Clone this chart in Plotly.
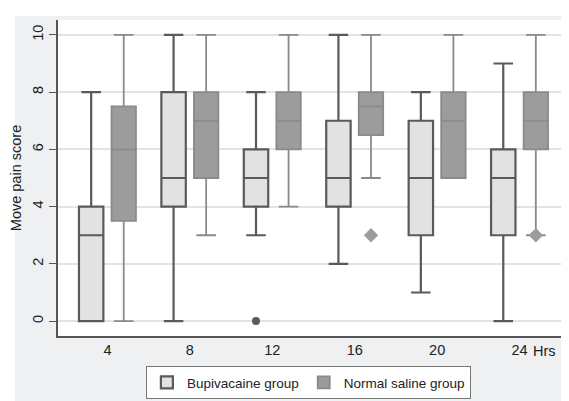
import plotly.graph_objects as go

hours = [4, 8, 12, 16, 20, 24]
tick_labels = ["4", "8", "12", "16", "20", "24"]

# Bupivacaine group box statistics
bup_low = [0, 0, 3, 2, 1, 0]
bup_q1 = [0, 4, 4, 4, 3, 3]
bup_med = [3, 5, 5, 5, 5, 5]
bup_q3 = [4, 8, 6, 7, 7, 6]
bup_high = [8, 10, 8, 10, 8, 9]
bup_out_hours = [12]
bup_out_vals = [0]

# Normal saline group box statistics
ns_low = [0, 3, 4, 5, 5, 3]
ns_q1 = [3.5, 5, 6, 6.5, 5, 6]
ns_med = [6, 7, 7, 7.5, 7, 7]
ns_q3 = [7.5, 8, 8, 8, 8, 8]
ns_high = [10, 10, 10, 10, 10, 10]
ns_out_hours = [16, 24]
ns_out_vals = [3, 3]

FONT = "Liberation Sans, Arial, sans-serif"
GAP = 0.21
OFFSET = 1 - GAP  # group offset in x units (dPos=2, 2 boxes)

fig = go.Figure()
fig.add_trace(go.Box(
    name="Bupivacaine group", x=hours,
    q1=bup_q1, median=bup_med, q3=bup_q3,
    lowerfence=bup_low, upperfence=bup_high,
    boxpoints=False, fillcolor="#e2e2e2",
    line=dict(color="#5a5a5a", width=2.2), whiskerwidth=0.8,
    hoverinfo="skip",
))
fig.add_trace(go.Box(
    name="Normal saline group", x=hours,
    q1=ns_q1, median=ns_med, q3=ns_q3,
    lowerfence=ns_low, upperfence=ns_high,
    boxpoints=False, fillcolor="#9c9c9c",
    line=dict(color="#8a8a8a", width=1.8), whiskerwidth=0.8,
    hoverinfo="skip",
))
fig.add_trace(go.Scatter(
    x=[h - OFFSET for h in bup_out_hours], y=bup_out_vals, mode="markers",
    marker=dict(symbol="circle", size=8, color="#5a5a5a"),
    showlegend=False, hoverinfo="skip",
))
fig.add_trace(go.Scatter(
    x=[h + OFFSET for h in ns_out_hours], y=ns_out_vals, mode="markers",
    marker=dict(symbol="diamond", size=11, color="#9c9c9c"),
    showlegend=False, hoverinfo="skip",
))

fig.update_layout(
    width=569, height=401,
    margin=dict(l=50, r=8, t=12, b=73, autoexpand=False),
    paper_bgcolor="#ffffff", plot_bgcolor="rgba(0,0,0,0)",
    boxmode="group", boxgap=GAP, boxgroupgap=0.25,
    font=dict(family=FONT, size=14, color="#222222"),
    xaxis=dict(
        range=[1.6, 26.4], tickvals=hours, ticktext=tick_labels,
        showgrid=False, zeroline=False, showline=True, automargin=False,
        linecolor="#555555", linewidth=1.5, ticks="",
        tickfont=dict(size=14.5, color="#222222"),
    ),
    yaxis=dict(
        range=[-0.52, 10.52], tickvals=[0, 2, 4, 6, 8, 10], tickangle=-90,
        showgrid=True, gridcolor="#e3e3e3", gridwidth=1.5, automargin=False,
        zeroline=False, showline=True, linecolor="#555555", linewidth=1.5,
        ticks="outside", ticklen=7, tickcolor="#555555",
        tickfont=dict(size=14.5, color="#222222"),
        title=dict(text="Move pain score", font=dict(size=14.5, color="#222222"), standoff=5),
    ),
    legend=dict(
        orientation="h", x=0.49, xanchor="center", y=-0.095, yanchor="top",
        bgcolor="#ffffff", bordercolor="#777777", borderwidth=1,
        font=dict(size=13.5, color="#222222"), itemwidth=30,
    ),
    shapes=[
        dict(type="rect", xref="paper", yref="paper", x0=-0.0841, x1=1.05,
             y0=-0.3, y1=1.0127, fillcolor="#eef0f2", line=dict(width=0), layer="below"),
        dict(type="rect", xref="paper", yref="paper", x0=0, x1=1,
             y0=0, y1=1, fillcolor="#ffffff", line=dict(width=0), layer="below"),
    ],
    annotations=[
        dict(text="Hrs", xref="paper", yref="paper", x=0.953, y=-0.047,
             xanchor="center", yanchor="middle", showarrow=False,
             font=dict(size=14.5, color="#222222")),
    ],
)

fig.write_html("out.html")
